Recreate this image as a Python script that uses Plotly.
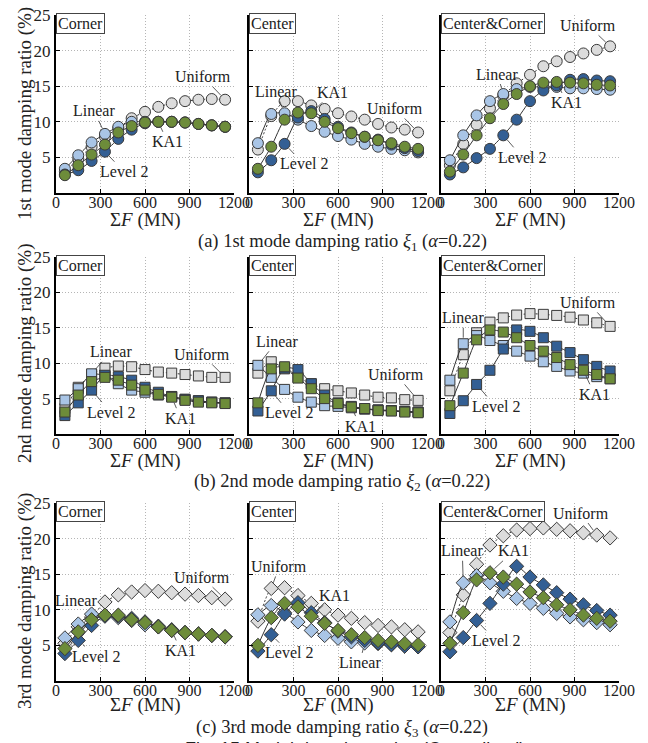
import plotly.graph_objects as go

# Total friction force levels (MN)
force = [60, 150, 240, 330, 420, 510, 600, 690, 780, 870, 960, 1050, 1140]

# ---- 1st mode damping ratio (%) ----
m1_corner_uniform = [3.0, 4.8, 6.5, 7.9, 9.1, 10.5, 11.4, 12.1, 12.6, 12.9, 13.1, 13.2, 13.1]
m1_corner_linear = [3.4, 5.3, 7.1, 8.3, 9.3, 10.0, 10.0, 10.0, 10.0, 9.9, 9.7, 9.5, 9.3]
m1_corner_level2 = [2.6, 3.2, 4.5, 5.8, 7.6, 8.9, 9.8, 10.0, 10.0, 9.9, 9.7, 9.5, 9.3]
m1_corner_ka1 = [2.5, 3.9, 5.4, 6.8, 8.5, 9.4, 9.9, 10.0, 10.0, 9.9, 9.7, 9.5, 9.3]

m1_center_uniform = [6.1, 10.8, 12.9, 12.9, 12.3, 11.8, 11.2, 10.75, 10.3, 9.7, 9.2, 8.9, 8.5]
m1_center_linear = [7.0, 11.1, 11.2, 10.3, 9.4, 8.6, 8.0, 7.5, 6.9, 6.5, 6.2, 6.0, 5.7]
m1_center_level2 = [2.9, 4.6, 6.9, 10.6, 11.5, 10.4, 9.3, 8.5, 7.9, 7.5, 6.8, 6.3, 5.9]
m1_center_ka1 = [3.4, 6.5, 10.3, 11.3, 11.2, 10.0, 9.1, 8.4, 7.9, 7.4, 7.0, 6.5, 6.2]

m1_both_uniform = [3.9, 6.9, 9.6, 11.9, 13.7, 15.4, 16.6, 17.8, 18.5, 19.1, 19.6, 20.1, 20.6]
m1_both_linear = [4.6, 8.1, 10.9, 12.9, 13.9, 14.6, 14.9, 14.9, 14.9, 14.7, 14.7, 14.6, 14.5]
m1_both_level2 = [2.6, 3.6, 4.9, 6.2, 8.1, 10.3, 12.9, 14.4, 15.1, 15.9, 16.0, 15.8, 15.7]
m1_both_ka1 = [3.0, 5.4, 8.1, 10.5, 12.5, 13.9, 15.0, 15.5, 15.6, 15.5, 15.4, 15.2, 15.1]

# ---- 2nd mode damping ratio (%) ----
m2_corner_uniform = [3.6, 6.6, 8.4, 9.3, 9.6, 9.5, 9.1, 8.75, 8.6, 8.4, 8.2, 8.0, 8.0]
m2_corner_linear = [4.8, 6.4, 8.5, 8.2, 7.1, 6.2, 5.9, 5.5, 5.3, 4.9, 4.7, 4.5, 4.4]
m2_corner_level2 = [2.6, 4.4, 6.2, 8.3, 8.1, 7.6, 6.6, 5.9, 5.3, 4.9, 4.7, 4.5, 4.4]
m2_corner_ka1 = [3.1, 5.5, 7.4, 8.0, 7.6, 6.9, 6.2, 5.6, 5.2, 4.75, 4.5, 4.4, 4.3]

m2_center_uniform = [8.6, 10.2, 9.2, 8.0, 7.1, 6.4, 6.1, 5.8, 5.5, 5.2, 5.1, 4.85, 4.75]
m2_center_linear = [9.7, 8.0, 6.3, 5.2, 4.5, 4.0, 3.9, 3.7, 3.5, 3.4, 3.3, 3.2, 3.1]
m2_center_level2 = [3.25, 6.1, 9.3, 9.1, 7.1, 5.5, 4.4, 3.9, 3.6, 3.4, 3.3, 3.2, 3.1]
m2_center_ka1 = [4.4, 9.2, 9.5, 7.9, 6.4, 5.0, 4.3, 3.8, 3.6, 3.3, 3.25, 3.1, 3.0]

m2_both_uniform = [6.1, 11.2, 14.3, 15.8, 16.4, 16.8, 17.0, 16.9, 16.75, 16.5, 16.1, 15.7, 15.2]
m2_both_linear = [7.6, 12.75, 13.9, 13.2, 12.5, 11.7, 11.0, 10.2, 9.55, 8.9, 8.6, 8.1, 7.8]
m2_both_level2 = [2.9, 4.7, 7.0, 9.0, 12.0, 14.7, 14.5, 13.6, 12.4, 11.5, 10.5, 9.55, 8.9]
m2_both_ka1 = [4.0, 8.6, 13.3, 14.7, 14.4, 13.6, 12.5, 11.7, 10.8, 9.8, 9.0, 8.4, 7.8]

# ---- 3rd mode damping ratio (%) ----
m3_corner_uniform = [5.3, 7.6, 9.0, 11.1, 12.1, 12.5, 12.7, 12.6, 12.4, 12.2, 12.0, 11.7, 11.5]
m3_corner_linear = [6.05, 8.0, 9.4, 9.2, 8.9, 8.5, 7.9, 7.6, 7.1, 6.8, 6.6, 6.4, 6.2]
m3_corner_level2 = [3.85, 5.7, 7.8, 9.1, 9.1, 8.8, 8.3, 7.7, 7.2, 6.8, 6.6, 6.4, 6.2]
m3_corner_ka1 = [4.55, 6.9, 8.6, 9.25, 9.25, 8.6, 8.2, 7.6, 7.1, 6.8, 6.6, 6.4, 6.2]

m3_center_uniform = [8.4, 13.0, 13.1, 12.0, 10.9, 10.0, 9.25, 8.8, 8.2, 7.8, 7.6, 7.2, 6.9]
m3_center_linear = [9.3, 10.6, 9.6, 8.3, 7.1, 6.4, 6.0, 5.5, 5.35, 5.25, 5.1, 4.9, 4.8]
m3_center_level2 = [4.2, 6.5, 9.4, 11.0, 9.6, 8.2, 7.0, 6.2, 5.7, 5.35, 5.1, 4.9, 4.8]
m3_center_ka1 = [5.0, 8.9, 10.9, 10.4, 9.1, 8.1, 7.1, 6.5, 6.1, 5.7, 5.5, 5.25, 5.1]

m3_both_uniform = [6.8, 12.1, 16.4, 19.1, 20.4, 21.2, 21.4, 21.5, 21.3, 21.1, 20.8, 20.5, 20.1]
m3_both_linear = [8.3, 13.8, 14.8, 13.8, 12.6, 11.6, 10.9, 10.2, 9.5, 9.0, 8.6, 8.2, 7.9]
m3_both_level2 = [4.1, 6.1, 8.5, 10.9, 13.6, 16.1, 14.6, 13.5, 12.4, 11.5, 10.7, 9.9, 9.25]
m3_both_ka1 = [5.3, 9.6, 14.2, 15.2, 14.6, 13.6, 12.5, 11.7, 10.7, 10.0, 9.25, 8.8, 8.4]

x_ticks = [0, 300, 600, 900, 1200]
y_ticks = [5, 10, 15, 20, 25]
locations = ["Corner", "Center", "Center&Corner"]
mode_titles = ["1st mode damping ratio (%)", "2nd mode damping ratio (%)",
               "3rd mode damping ratio (%)"]
captions = [
    "(a) 1st mode damping ratio <i>ξ</i><sub>1</sub> (<i>α</i>=0.22)",
    "(b) 2nd mode damping ratio <i>ξ</i><sub>2</sub> (<i>α</i>=0.22)",
    "(c) 3rd mode damping ratio <i>ξ</i><sub>3</sub> (<i>α</i>=0.22)",
]

series_order = ["Uniform", "Linear", "Level 2", "KA1"]
series_color = {"Uniform": "#dcdcdc", "Linear": "#a9c5e6",
                "Level 2": "#335f94", "KA1": "#6d8c3a"}
series_dash = {"Uniform": "2px,2px", "Linear": "solid", "Level 2": "solid", "KA1": "solid"}
mode_symbol = ["circle", "square", "diamond"]
mode_size = [11, 10, 11]

panels = [
    [
        {"Uniform": m1_corner_uniform, "Linear": m1_corner_linear, "Level 2": m1_corner_level2, "KA1": m1_corner_ka1},
        {"Uniform": m1_center_uniform, "Linear": m1_center_linear, "Level 2": m1_center_level2, "KA1": m1_center_ka1},
        {"Uniform": m1_both_uniform, "Linear": m1_both_linear, "Level 2": m1_both_level2, "KA1": m1_both_ka1},
    ],
    [
        {"Uniform": m2_corner_uniform, "Linear": m2_corner_linear, "Level 2": m2_corner_level2, "KA1": m2_corner_ka1},
        {"Uniform": m2_center_uniform, "Linear": m2_center_linear, "Level 2": m2_center_level2, "KA1": m2_center_ka1},
        {"Uniform": m2_both_uniform, "Linear": m2_both_linear, "Level 2": m2_both_level2, "KA1": m2_both_ka1},
    ],
    [
        {"Uniform": m3_corner_uniform, "Linear": m3_corner_linear, "Level 2": m3_corner_level2, "KA1": m3_corner_ka1},
        {"Uniform": m3_center_uniform, "Linear": m3_center_linear, "Level 2": m3_center_level2, "KA1": m3_center_ka1},
        {"Uniform": m3_both_uniform, "Linear": m3_both_linear, "Level 2": m3_both_level2, "KA1": m3_both_ka1},
    ],
]

# Callout labels: (series, point index, text offset x px, text offset y px)
callouts = [
    [
        [("Uniform", 12, -22, -23), ("Linear", 3, -11, -23), ("KA1", 7, 9, 20), ("Level 2", 3, 19, 20)],
        [("Linear", 2, -9, -22), ("KA1", 4, 21, -21), ("Uniform", 12, -23, -24), ("Level 2", 2, 19, 20)],
        [("Uniform", 12, -22, -21), ("Linear", 4, -6, -20), ("KA1", 8, 10, 21), ("Level 2", 4, 19, 22)],
    ],
    [
        [("Linear", 2, 19, -22), ("Uniform", 12, -23, -23), ("Level 2", 2, 19, 22), ("KA1", 8, 9, 21)],
        [("Linear", 0, 19, -24), ("Uniform", 12, -22, -26), ("Level 2", 1, 18, 22), ("KA1", 7, 9, 19)],
        [("Uniform", 12, -22, -24), ("Linear", 1, 0, -26), ("Level 2", 2, 19, 22), ("KA1", 10, 11, 24)],
    ],
    [
        [("Uniform", 12, -23, -22), ("Linear", 2, -16, -14), ("Level 2", 1, 18, 16), ("KA1", 8, 9, 20)],
        [("Uniform", 1, 8, -22), ("KA1", 4, 23, -21), ("Level 2", 1, 18, 18), ("Linear", 8, -5, 20)],
        [("Uniform", 11, -16, -22), ("Linear", 1, -1, -32), ("KA1", 3, 24, -22), ("Level 2", 2, 19, 20)],
    ],
]

W, H = 648, 743
col_px = [(56, 234), (249, 427), (441, 619)]
row_px = [(15, 193), (257, 434), (503, 681)]
xtitle_px = [220, 461, 705]
caption_px = [242, 482, 728]
ytitle_px = [114, 353, 601]

serif = "'Liberation Serif', 'Times New Roman', 'DejaVu Serif', serif"
sans = "'Liberation Sans', Arial, sans-serif"
ink = "#222222"
grid_dash = "1px,2px"

fig = go.Figure()
layout = dict(width=W, height=H, autosize=False,
              margin=dict(l=0, r=0, t=0, b=0, pad=0, autoexpand=False),
              paper_bgcolor="white", plot_bgcolor="white", showlegend=False,
              font=dict(family=serif, size=16, color=ink))
annotations = []

for r in range(3):
    for c in range(3):
        k = r * 3 + c + 1
        xa = "xaxis" if k == 1 else f"xaxis{k}"
        ya = "yaxis" if k == 1 else f"yaxis{k}"
        xref = "x" if k == 1 else f"x{k}"
        yref = "y" if k == 1 else f"y{k}"
        x0, x1 = col_px[c]
        y0, y1 = row_px[r]
        layout[xa] = dict(domain=[x0 / W, x1 / W], anchor=yref, range=[0, 1200],
                          tickvals=x_ticks, ticks="inside", ticklen=4, tickcolor="black",
                          showline=True, linecolor="black", linewidth=2,
                          showgrid=True, gridcolor="#b5b5b5", griddash=grid_dash, gridwidth=1,
                          zeroline=False, automargin=False, ticklabelstandoff=-6,
                          tickfont=dict(family=serif, size=16, color=ink),
                          fixedrange=True)
        layout[ya] = dict(domain=[1 - y1 / H, 1 - y0 / H], anchor=xref, range=[0, 25],
                          tickvals=y_ticks, ticks="inside", ticklen=4, tickcolor="black",
                          showline=True, linecolor="black", linewidth=2,
                          showgrid=True, gridcolor="#b5b5b5", griddash=grid_dash, gridwidth=1,
                          zeroline=False, automargin=False, showticklabels=(c == 0),
                          tickfont=dict(family=serif, size=17, color=ink), fixedrange=True)
        data = panels[r][c]
        for name in series_order:
            fig.add_trace(go.Scatter(
                x=force, y=data[name], xaxis=xref, yaxis=yref, name=name,
                mode="lines+markers", cliponaxis=False,
                line=dict(color="#333333", width=1, dash=series_dash[name],
                          shape="spline", smoothing=0.6),
                marker=dict(symbol=mode_symbol[r], size=mode_size[r],
                            color=series_color[name],
                            line=dict(color="#3a3a3a", width=1)),
            ))
        for name, idx, ax, ay in callouts[r][c]:
            annotations.append(dict(
                x=force[idx], y=data[name][idx], xref=xref, yref=yref,
                text=name, showarrow=True, arrowhead=0, arrowwidth=0.8,
                arrowcolor="#333333", ax=ax, ay=ay, standoff=6,
                font=dict(family=serif, size=16, color=ink)))
        # location tag in the upper-left corner
        annotations.append(dict(
            x=0, y=1, xref=f"{xref} domain", yref=f"{yref} domain",
            xanchor="left", yanchor="top", text=locations[c], showarrow=False,
            bgcolor="white", bordercolor="#444444", borderwidth=1, borderpad=1,
            yshift=2, font=dict(family=serif, size=16, color=ink)))
        # x-axis title
        annotations.append(dict(
            x=(x0 + x1) / 2 / W, y=1 - xtitle_px[r] / H, xref="paper", yref="paper",
            text="Σ<i>F</i> (MN)", showarrow=False, xanchor="center", yanchor="middle",
            font=dict(family=serif, size=19, color=ink)))
    # y-axis title for the row
    annotations.append(dict(
        x=25 / W, y=1 - ytitle_px[r] / H, xref="paper", yref="paper",
        text=mode_titles[r], textangle=-90, showarrow=False,
        xanchor="center", yanchor="middle", font=dict(family=serif, size=19, color=ink)))
    # row caption
    annotations.append(dict(
        x=342 / W, y=1 - caption_px[r] / H, xref="paper", yref="paper",
        text=captions[r], showarrow=False, xanchor="center", yanchor="middle",
        font=dict(family=serif, size=18.5, color=ink)))

annotations.append(dict(
    x=355 / W, y=1 - 749 / H, xref="paper", yref="paper",
    text="Fig. 15 Modal damping ratios (Centralized)", showarrow=False,
    xanchor="center", yanchor="middle",
    font=dict(family=sans, size=18, color=ink)))

layout["annotations"] = annotations
fig.update_layout(**layout)
fig.write_html("out.html")
